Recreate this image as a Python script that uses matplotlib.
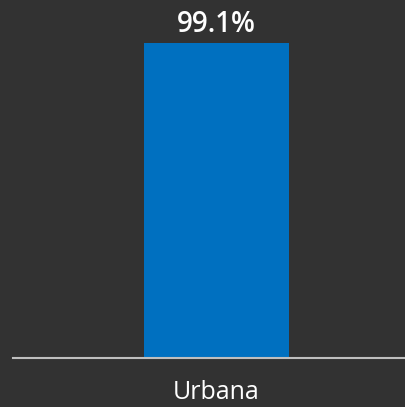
import matplotlib
matplotlib.use("Agg")
import matplotlib.pyplot as plt

categories = ["Urbana"]
values = [99.1]
value_labels = ["99.1%"]

W, H = 406, 407
fig = plt.figure(figsize=(W / 100, H / 100), dpi=100, facecolor="#323232")
left, right = 13, 420
bottom_px, top_px = 358, 40
ax = fig.add_axes([left / W, 1 - bottom_px / H, (right - left) / W, (bottom_px - top_px) / H])
ax.set_facecolor("#323232")

x = list(range(len(categories)))
bars = ax.bar(x, values, width=0.356, color="#0070C0")
ax.set_xlim(-0.5, 0.5)
ax.set_ylim(0, 100)

for xi, v, lab in zip(x, values, value_labels):
    ax.annotate(lab, (xi, v), xytext=(0, 3), textcoords="offset points",
                ha="center", va="bottom", color="white", fontsize=20,
                fontfamily="Open Sans", fontweight="semibold")

ax.set_xticks(x)
ax.set_xticklabels(categories, color="white", fontsize=18, fontfamily="Open Sans")
ax.tick_params(axis="x", length=0, pad=16)
ax.set_yticks([])
for s in ["top", "right", "left"]:
    ax.spines[s].set_visible(False)
ax.spines["bottom"].set_color("#BFBFBF")
ax.spines["bottom"].set_linewidth(1.5)

fig.savefig("out.png", dpi=100, facecolor=fig.get_facecolor())
